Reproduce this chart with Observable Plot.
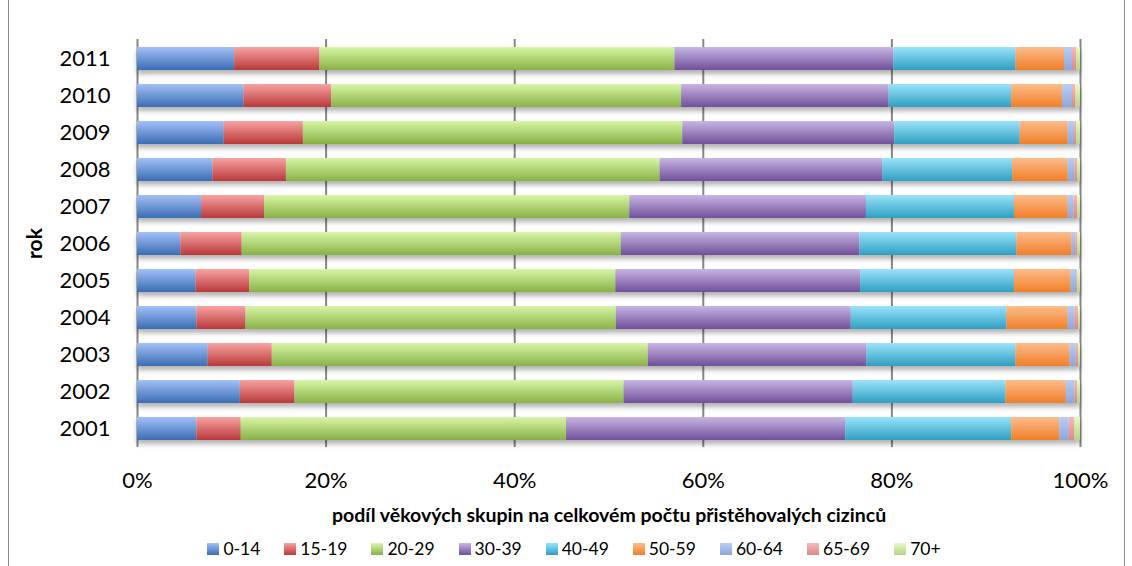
<!DOCTYPE html>
<html>
<head>
<meta charset="utf-8">
<script src="https://cdn.jsdelivr.net/npm/d3@7"></script>
<script src="https://cdn.jsdelivr.net/npm/@observablehq/plot@0.6"></script>
<style>
  html, body { margin: 0; padding: 0; background: #fff; }
  #wrap { position: relative; width: 1132px; height: 566px; overflow: hidden; font-family: Lato, "Open Sans", sans-serif; }
  #wrap::before, #wrap::after { content: ""; position: absolute; top: 0; bottom: 0; width: 1px; background: #8c8c8c; }
  #wrap::before { left: 8px; }
  #wrap::after { left: 1124px; }
  #legend { position: absolute; left: 0; top: 538px; width: 1148px; display: flex; justify-content: center; gap: 24px; font-size: 17.5px; color: #000; }
  .item { display: flex; align-items: center; }
  .sw { width: 12px; height: 12px; margin-right: 4px; }
</style>
</head>
<body>
<div id="wrap"><div id="chart"></div><div id="legend"></div></div>
<script>
const years = ["2001","2002","2003","2004","2005","2006","2007","2008","2009","2010","2011"];
const groups = ["0-14","15-19","20-29","30-39","40-49","50-59","60-64","65-69","70+"];
const xTicks = [0, 0.2, 0.4, 0.6, 0.8, 1];
const xTitle = "podíl věkových skupin na celkovém počtu přistěhovalých cizinců";
const yTitle = "rok";

// shares (%) per age group, indexed like `years`
const g0_14  = [6.3, 10.9, 7.5, 6.3, 6.2, 4.6, 6.8, 8.0, 9.2, 11.3, 10.3];
const g15_19 = [4.7, 5.8, 6.8, 5.2, 5.7, 6.5, 6.7, 7.8, 8.4, 9.3, 9.05];
const g20_29 = [34.5, 34.9, 39.9, 39.25, 38.8, 40.2, 38.7, 39.65, 40.25, 37.1, 37.65];
const g30_39 = [29.6, 24.3, 23.2, 24.9, 25.95, 25.3, 25.1, 23.65, 22.5, 22.0, 23.2];
const g40_49 = [17.6, 16.2, 15.8, 16.5, 16.3, 16.65, 15.7, 13.75, 13.3, 13.0, 12.95];
const g50_59 = [5.1, 6.4, 5.75, 6.5, 6.0, 5.85, 5.7, 5.9, 5.1, 5.4, 5.15];
const g60_64 = [1.0, 0.9, 0.65, 0.7, 0.6, 0.4, 0.6, 0.7, 0.65, 1.05, 0.85];
const g65_69 = [0.6, 0.3, 0.25, 0.4, 0.1, 0.2, 0.4, 0.3, 0.25, 0.35, 0.45];
const g70    = [0.6, 0.3, 0.2, 0.2, 0.3, 0.3, 0.3, 0.3, 0.4, 0.5, 0.4];

const series = [g0_14, g15_19, g20_29, g30_39, g40_49, g50_59, g60_64, g65_69, g70];
const rows = [];
years.forEach((y, i) => groups.forEach((g, j) => rows.push({year: y, group: g, value: series[j][i]})));

// gradient stops (top, bottom) per group
const gradTop = ["#a2c0f8","#f8a3a2","#d8f6a6","#c7b5e3","#9ae3fb","#fdbc8c","#b8cdf9","#f9bab9","#e6fbc2"];
const gradBot = ["#3b6db3","#b8383a","#89b147","#70509a","#2f9fc2","#f07f28","#8ea7d7","#d78988","#b8d289"];

const chart = Plot.plot({
  width: 1132,
  height: 535,
  marginLeft: 137,
  marginRight: 52,
  marginTop: 39,
  marginBottom: 88,
  style: {fontFamily: "Lato, 'Open Sans', sans-serif", color: "#000", background: "transparent"},
  x: {domain: [0, 1]},
  y: {domain: years.slice().reverse(), paddingInner: 0.38, paddingOuter: 0.19},
  color: {type: "ordinal", domain: groups, range: groups.map((g, i) => `url(#grad${i})`)},
  marks: [
    Plot.gridX(xTicks, {stroke: "#868686", strokeOpacity: 1, strokeWidth: 2}),
    Plot.barX(rows, Plot.stackX({x: "value", y: "year", fill: "group", order: groups, offset: "normalize"})),
    Plot.axisX(xTicks, {tickFormat: d => Math.round(d * 100) + "%", tickSize: 0, tickPadding: 25, fontSize: 22, label: null}),
    Plot.axisY({tickSize: 0, tickPadding: 27, fontSize: 22, label: null}),
    Plot.text([yTitle], {frameAnchor: "left", dx: -102, rotate: -90, textAnchor: "middle", lineAnchor: "middle", fontWeight: "bold", fontSize: 21}),
    Plot.text([xTitle], {frameAnchor: "bottom", dy: 74, fontWeight: "bold", fontSize: 19.5})
  ]
});

const svg = d3.select(chart);
const defs = svg.insert("defs", ":first-child");
groups.forEach((g, i) => {
  const lg = defs.append("linearGradient").attr("id", `grad${i}`).attr("x1", 0).attr("y1", 0).attr("x2", 0).attr("y2", 1);
  lg.append("stop").attr("offset", "0%").attr("stop-color", gradTop[i]);
  lg.append("stop").attr("offset", "100%").attr("stop-color", gradBot[i]);
});
const f = defs.append("filter").attr("id", "shadow").attr("x", "-5%").attr("y", "-20%").attr("width", "110%").attr("height", "160%");
f.append("feDropShadow").attr("dx", 0).attr("dy", 4).attr("stdDeviation", 2.5).attr("flood-color", "#000").attr("flood-opacity", 0.3);
svg.selectAll("g[aria-label='bar']").attr("filter", "url(#shadow)");

document.getElementById("chart").appendChild(chart);

const legend = document.getElementById("legend");
groups.forEach((g, i) => {
  const it = document.createElement("div");
  it.className = "item";
  const sw = document.createElement("span");
  sw.className = "sw";
  sw.style.background = `linear-gradient(${gradTop[i]}, ${gradBot[i]})`;
  const t = document.createElement("span");
  t.textContent = g;
  it.appendChild(sw); it.appendChild(t);
  legend.appendChild(it);
});
</script>
</body>
</html>
